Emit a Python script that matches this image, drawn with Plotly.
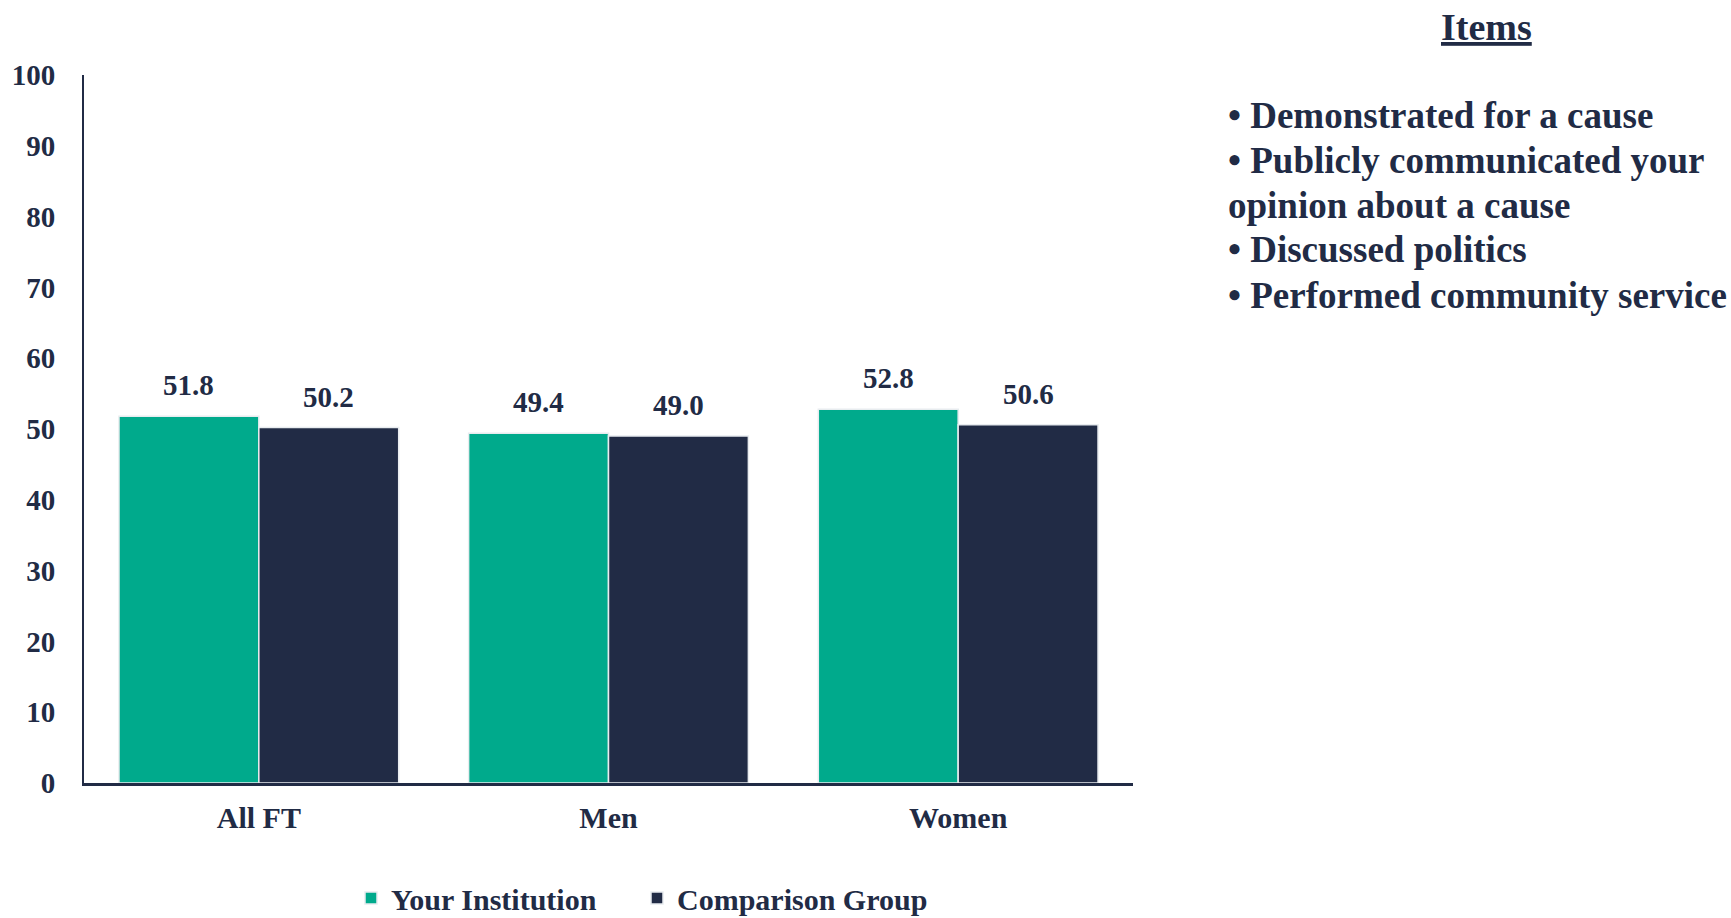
import plotly.graph_objects as go

categories = ["All FT", "Men", "Women"]
your_institution = [51.8, 49.4, 52.8]
comparison_group = [50.2, 49.0, 50.6]
series_names = ["Your Institution", "Comparison Group"]
items_title = "Items"
items = [
    "• Demonstrated for a cause",
    "• Publicly communicated your",
    "opinion about a cause",
    "• Discussed politics",
    "• Performed community service",
]

GREEN = "#00AA8C"
NAVY = "#212B45"
FONT = "Liberation Serif"

W, H = 1731, 918
# plot area in page pixels: x 84..1133, y 75..783
ML, MT = 84, 75
MR = W - 1133
MB = H - 783
plot_w = W - ML - MR
plot_h = H - MT - MB


def px_x(p):  # page px -> paper x
    return (p - ML) / plot_w


def px_y(p):  # page px -> paper y
    return (H - MB - p) / plot_h


fig = go.Figure()
for name, vals, col, lg in [(series_names[0], your_institution, GREEN, "legend"),
                            (series_names[1], comparison_group, NAVY, "legend2")]:
    fig.add_trace(go.Bar(
        x=categories, y=vals, name=name, legend=lg,
        marker=dict(color=col, line=dict(color="#E8ECEF", width=1.5)),
        hoverinfo="x+y",
    ))

# value labels above bars
cat_w = plot_w / len(categories)
bar_w = cat_w * 0.8 / 2
for vals, sign in [(your_institution, -1), (comparison_group, 1)]:
    for c, v in zip(categories, vals):
        fig.add_annotation(
            x=c, y=v, xref="x", yref="y", text=f"<b>{v:.1f}</b>",
            showarrow=False, xshift=sign * bar_w / 2, yanchor="bottom", yshift=13,
            font=dict(family=FONT, size=29, color=NAVY),
        )

fig.add_annotation(
    xref="paper", yref="paper", x=px_x(1486), y=px_y(27),
    text=f"<b><u>{items_title}</u></b>", showarrow=False, xanchor="center", yanchor="middle",
    font=dict(family=FONT, size=38, color=NAVY),
)
item_centers = [115, 160, 205, 249, 295]
for line, yc in zip(items, item_centers):
    fig.add_annotation(
        xref="paper", yref="paper", x=px_x(1226), y=px_y(yc),
        text=f"<b>{line}</b>", showarrow=False, xanchor="left", yanchor="middle",
        align="left", font=dict(family=FONT, size=37, color=NAVY),
    )

legend_style = dict(
    orientation="h", xanchor="left", y=px_y(898), yanchor="middle",
    font=dict(family=FONT, size=30, color=NAVY, weight="bold"),
    bgcolor="rgba(0,0,0,0)",
)

fig.update_layout(
    width=W, height=H,
    margin=dict(l=ML, r=MR, t=MT, b=MB, autoexpand=False),
    paper_bgcolor="white", plot_bgcolor="white",
    barmode="group", bargap=0.2, bargroupgap=0.0,
    font=dict(family=FONT, color=NAVY),
    showlegend=True,
    legend=dict(x=px_x(351), **legend_style),
    legend2=dict(x=px_x(637), **legend_style),
    xaxis=dict(
        showline=True, linecolor=NAVY, linewidth=3, showgrid=False, ticks="",
        tickfont=dict(family=FONT, size=30, color=NAVY, weight="bold"),
        ticklabelstandoff=6,
    ),
    yaxis=dict(
        range=[0, 100], dtick=10, showline=True, linecolor=NAVY, linewidth=2,
        showgrid=False, zeroline=False, ticks="",
        tickfont=dict(family=FONT, size=29, color=NAVY, weight="bold"),
        ticklabelstandoff=21,
    ),
)

fig.write_html("out.html", config={"displayModeBar": False},
               post_script="document.body.style.margin='0px';")
